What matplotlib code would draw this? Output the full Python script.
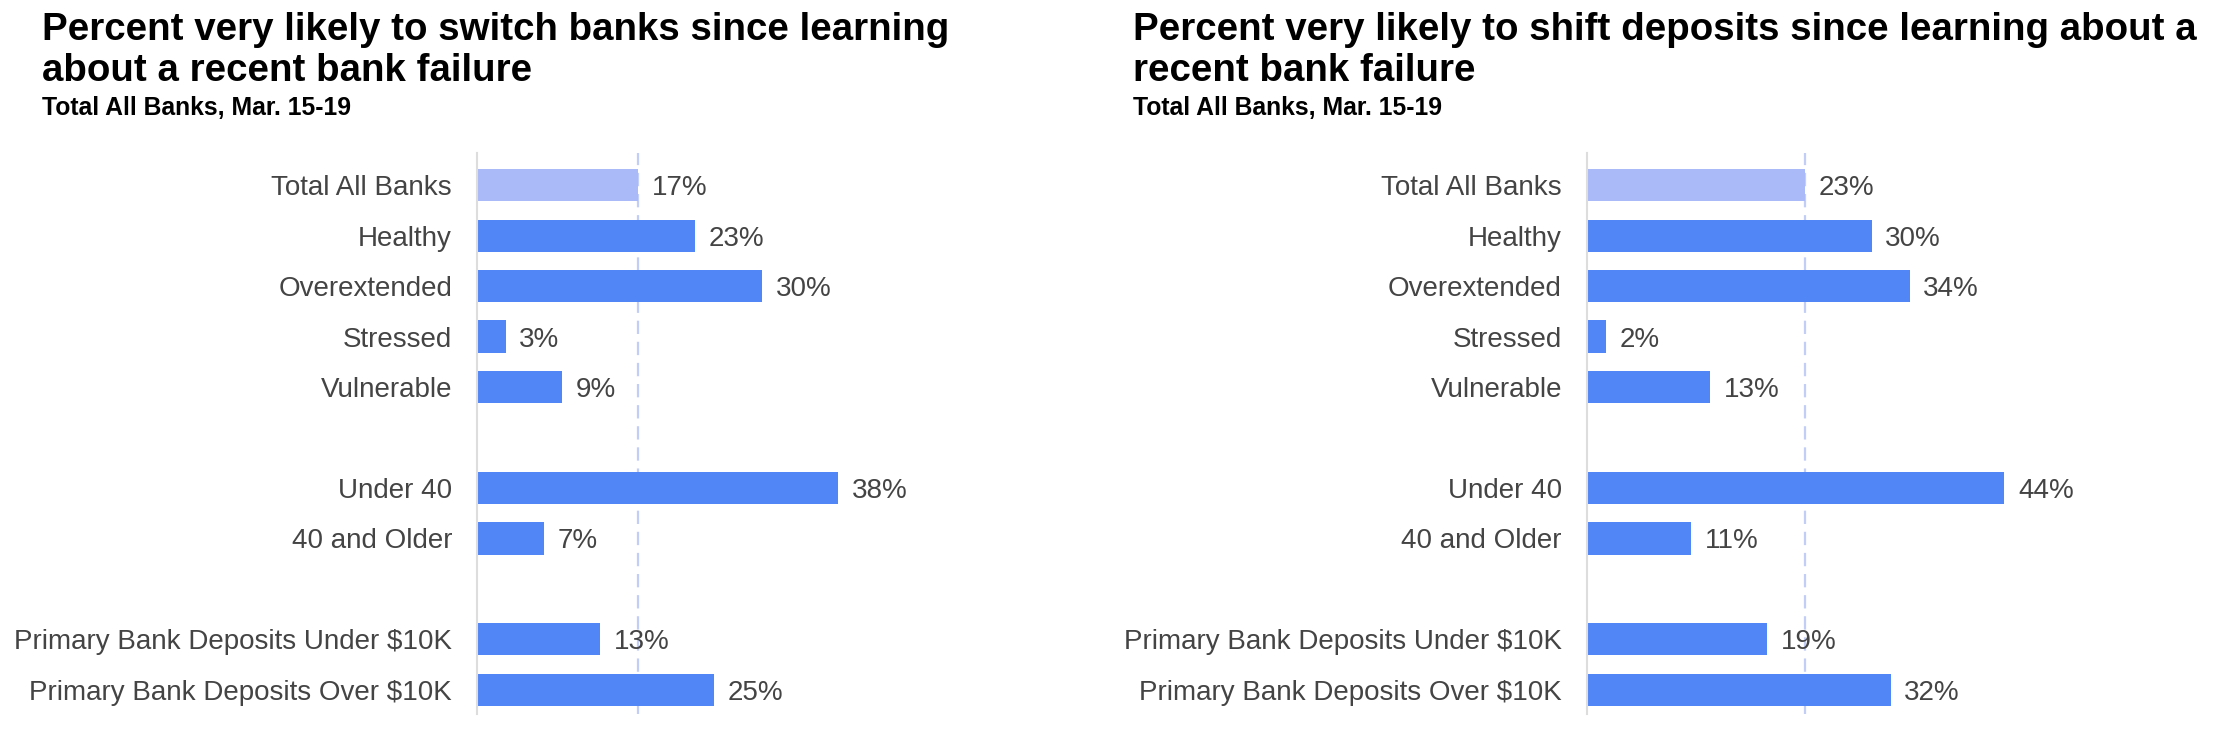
import matplotlib
matplotlib.use("Agg")
import matplotlib.pyplot as plt

OUT = "out.png"

# row groups (a blank row separates each group)
segments = ["Total All Banks", "Healthy", "Overextended", "Stressed", "Vulnerable"]
ages = ["Under 40", "40 and Older"]
deposits = ["Primary Bank Deposits Under $10K", "Primary Bank Deposits Over $10K"]

switch_banks = [17, 23, 30, 3, 9, 38, 7, 13, 25]
shift_deposits = [23, 30, 34, 2, 13, 44, 11, 19, 32]

titles = [
    ["Percent very likely to switch banks since learning", "about a recent bank failure"],
    ["Percent very likely to shift deposits since learning about a", "recent bank failure"],
]
subtitle = "Total All Banks, Mar. 15-19"

BLUE = "#5086F6"
LIGHT = "#AABAF8"
TEXT = "#444444"
FONT = "Liberation Sans"


def row_positions():
    labels, pos = [], []
    y = 0
    for grp in (segments, ages, deposits):
        for name in grp:
            labels.append(name)
            pos.append(y)
            y += 1
        y += 1
    return labels, pos


def draw_panel(fig, left, values):
    ax = fig.add_axes([left, 0.048, 0.1925, 0.748])
    labels, pos = row_positions()
    colors = [LIGHT] + [BLUE] * (len(values) - 1)
    ax.barh(pos, values, height=0.64, color=colors, zorder=2)
    ax.axvline(values[0], color="#C3CEF6", lw=1.6, ls=(0, (6, 3.5)), zorder=1)
    for p, v in zip(pos, values):
        ax.text(v + 1.45, p, f"{v}%", va="center_baseline", ha="left",
                fontsize=20, color=TEXT, family=FONT)
    ax.set_yticks(pos)
    ax.set_yticklabels(labels, fontsize=20, color=TEXT, family=FONT)
    ax.tick_params(axis="y", length=0, pad=18)
    ax.set_xticks([])
    ax.set_xlim(0, 45)
    ax.set_ylim(10.48, -0.64)
    for s in ("top", "right", "bottom"):
        ax.spines[s].set_visible(False)
    ax.spines["left"].set_color("#DDDDDD")
    ax.spines["left"].set_linewidth(1.5)
    return ax


def main():
    fig = plt.figure(figsize=(22.18, 7.5), dpi=100)
    fig.patch.set_facecolor("white")
    draw_panel(fig, 0.2151, switch_banks)
    draw_panel(fig, 0.7155, shift_deposits)
    for x, lines in zip((42 / 2218, 1133 / 2218), titles):
        for base, line in zip((40, 81), lines):
            fig.text(x, 1 - base / 750, line, ha="left", va="baseline",
                     fontsize=27.7, fontweight="bold", family=FONT, color="black")
        fig.text(x, 1 - 115 / 750, subtitle, ha="left", va="baseline",
                 fontsize=17.8, fontweight="bold", family=FONT, color="black")
    fig.savefig(OUT, dpi=100, facecolor="white")
    plt.close(fig)


if __name__ == "__main__":
    main()
